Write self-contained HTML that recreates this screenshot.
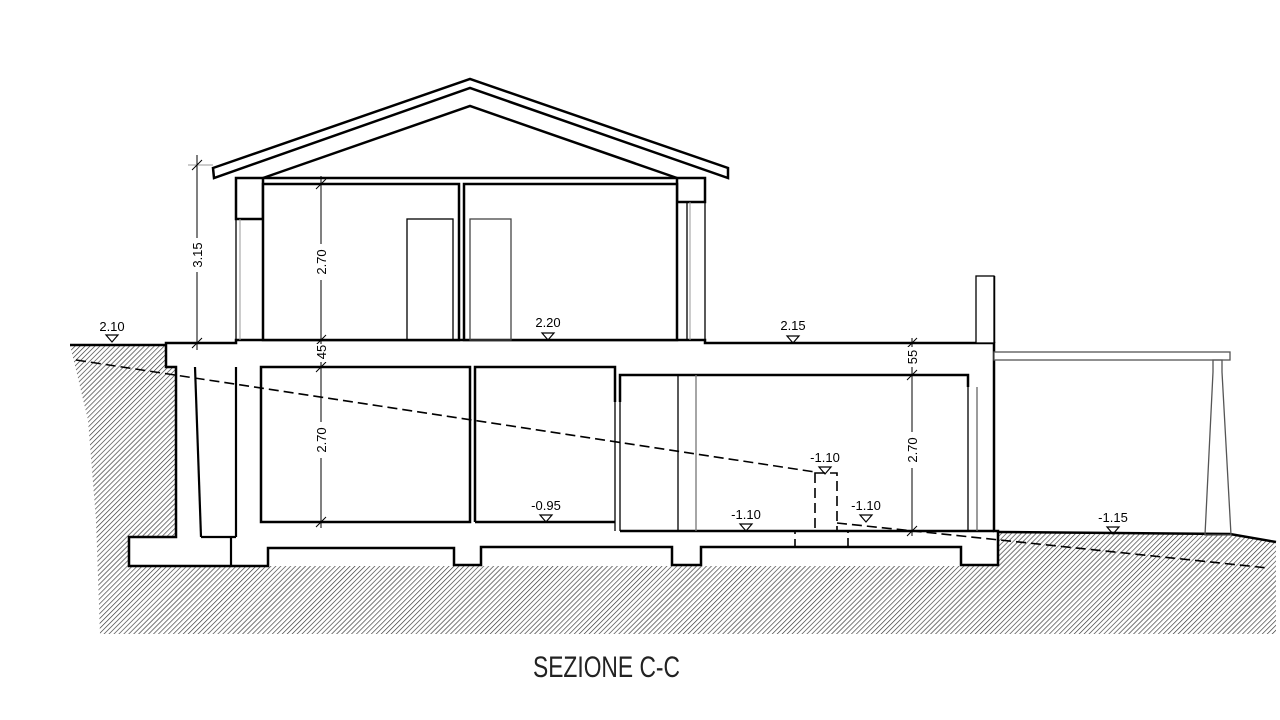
<!DOCTYPE html>
<html><head><meta charset="utf-8"><style>html,body{margin:0;padding:0;background:#fff}svg{display:block}</style></head>
<body>
<svg width="1280" height="720" viewBox="0 0 1280 720" xmlns="http://www.w3.org/2000/svg" font-family="Liberation Sans, sans-serif">
<defs>
<pattern id="h" patternUnits="userSpaceOnUse" width="3.5" height="3.5" patternTransform="rotate(45)">
<rect width="3.5" height="3.5" fill="#fff"/>
<line x1="0" y1="0" x2="0" y2="3.5" stroke="#333" stroke-width="1.3"/>
</pattern>
</defs>
<rect width="1280" height="720" fill="#fff"/>
<polygon points="70,345 166,345 166,367 176,367 176,537 129,537 129,566 998,566 998,532 1230,534 1276,542 1276,634 100,634 96,520 88,420 76,370" fill="url(#h)"/>
<line x1="70" y1="345" x2="166" y2="345" stroke="#000" stroke-width="2.5"/>
<polyline points="998,532 1230,534 1276,542" fill="none" stroke="#000" stroke-width="2.5"/>

<g stroke="#000" stroke-width="2.5" fill="#fff">
<polygon points="213,168 470,79 728,168 728,178 470,88 214,178"/>
<polyline points="263,178 470,106 677,178" fill="none"/>
<line x1="263" y1="178" x2="677" y2="178"/>
<polygon points="166,343 236,343 236,340 705,340 705,343 994,343 994,531 998,531 998,565 961,565 961,547 701,547 701,565 672,565 672,547 481,547 481,565 454,565 454,548 268,548 268,566 129,566 129,537 176,537 176,367 166,367"/>
<rect x="236" y="178" width="27" height="41"/>
<rect x="677" y="178" width="28" height="24"/>
<rect x="263" y="184" width="196" height="156"/>
<rect x="464" y="184" width="213" height="156"/>
<rect x="261" y="367" width="209" height="155"/>
<polyline points="475,522 475,367 615,367 615,402" fill="none"/>
<line x1="475" y1="522" x2="615" y2="522"/>
<polyline points="620,402 620,375 968,375 968,387" fill="none"/>
<line x1="620" y1="531" x2="994" y2="531"/>
<line x1="994" y1="276" x2="994" y2="343"/>
</g>
<g stroke="#000" stroke-width="1.3" fill="none">
<line x1="236" y1="219" x2="236" y2="340"/>
<line x1="705" y1="202" x2="705" y2="340"/>
<line x1="687" y1="202" x2="687" y2="340"/>
<rect x="407" y="219" width="46" height="121"/>
<rect x="470" y="219" width="41" height="121" stroke="#444"/>
<line x1="195" y1="367" x2="201" y2="537" stroke-width="2.2"/>
<line x1="201" y1="537" x2="236" y2="537" stroke-width="2.2"/>
<line x1="236" y1="367" x2="236" y2="537" stroke-width="2.2"/>
<line x1="231" y1="537" x2="231" y2="566" stroke-width="2.2"/>
<line x1="615" y1="402" x2="615" y2="531"/>
<line x1="620" y1="402" x2="620" y2="531"/>
<line x1="968" y1="387" x2="968" y2="531"/>
<line x1="977" y1="387" x2="977" y2="531" stroke="#666"/>
<line x1="678" y1="375" x2="678" y2="531"/>
<line x1="696" y1="375" x2="696" y2="531" stroke="#777"/>
<rect x="976" y="276" width="18" height="67" fill="#fff"/>
<rect x="994" y="352" width="236" height="8" fill="#fff" stroke="#555"/>
<polygon points="1213,360 1222,360 1222,372 1231,535 1205,535 1213,372" stroke="#555"/>
</g>
<g stroke="#999" stroke-width="1" fill="none">
<line x1="240" y1="219" x2="240" y2="340"/>
<line x1="690" y1="202" x2="690" y2="340"/>
</g>
<g stroke="#000" stroke-width="1.6" stroke-dasharray="10,5" fill="none">
<line x1="76" y1="360" x2="815" y2="472"/>
<line x1="837" y1="523" x2="1268" y2="568"/>
<rect x="815" y="473" width="22" height="58"/>
<rect x="795" y="531" width="53" height="16"/>
</g>
<g stroke="#000" stroke-width="1" fill="none">
<line x1="197" y1="155" x2="197" y2="350"/>
<line x1="188" y1="165" x2="213" y2="165" stroke="#999"/>
<line x1="192" y1="170" x2="202" y2="160"/>
<line x1="192" y1="348" x2="202" y2="338"/>
<line x1="321" y1="176" x2="321" y2="528"/>
<line x1="316" y1="189" x2="326" y2="179"/>
<line x1="316" y1="345" x2="326" y2="335"/>
<line x1="316" y1="372" x2="326" y2="362"/>
<line x1="316" y1="527" x2="326" y2="517"/>
<line x1="912" y1="338" x2="912" y2="536"/>
<line x1="907" y1="348" x2="917" y2="338"/>
<line x1="907" y1="380" x2="917" y2="370"/>
<line x1="907" y1="536" x2="917" y2="526"/>
</g>
<g font-size="13" fill="#000" text-anchor="middle">
<rect x="190" y="238" width="14" height="34" fill="#fff"/>
<text transform="translate(202,255) rotate(-90)">3.15</text>
<rect x="314" y="244" width="14" height="36" fill="#fff"/>
<text transform="translate(326,262) rotate(-90)">2.70</text>
<rect x="314" y="344" width="14" height="18" fill="#fff"/>
<text transform="translate(326,352) rotate(-90)">45</text>
<rect x="314" y="422" width="14" height="36" fill="#fff"/>
<text transform="translate(326,440) rotate(-90)">2.70</text>
<rect x="905" y="347" width="14" height="20" fill="#fff"/>
<text transform="translate(917,357) rotate(-90)">55</text>
<rect x="905" y="432" width="14" height="36" fill="#fff"/>
<text transform="translate(917,450) rotate(-90)">2.70</text>
</g>
<g font-size="13" fill="#000" text-anchor="middle">
<text x="112" y="331">2.10</text>
<text x="548" y="327">2.20</text>
<text x="793" y="330">2.15</text>
<text x="546" y="510">-0.95</text>
<text x="825" y="462">-1.10</text>
<text x="746" y="519">-1.10</text>
<text x="866" y="510">-1.10</text>
<text x="1113" y="522">-1.15</text>
</g>
<g fill="none" stroke="#000" stroke-width="1.2">
<polygon points="106,335 118,335 112,342"/>
<polygon points="542,333 554,333 548,340"/>
<polygon points="787,336 799,336 793,343"/>
<polygon points="540,515 552,515 546,522"/>
<polygon points="819,467 831,467 825,474"/>
<polygon points="740,524 752,524 746,531"/>
<polygon points="860,515 872,515 866,522"/>
<polygon points="1107,527 1119,527 1113,534"/>
</g>
<text x="533" y="677" font-size="30" textLength="147" lengthAdjust="spacingAndGlyphs" fill="#222">SEZIONE C-C</text>
</svg>
</body></html>
